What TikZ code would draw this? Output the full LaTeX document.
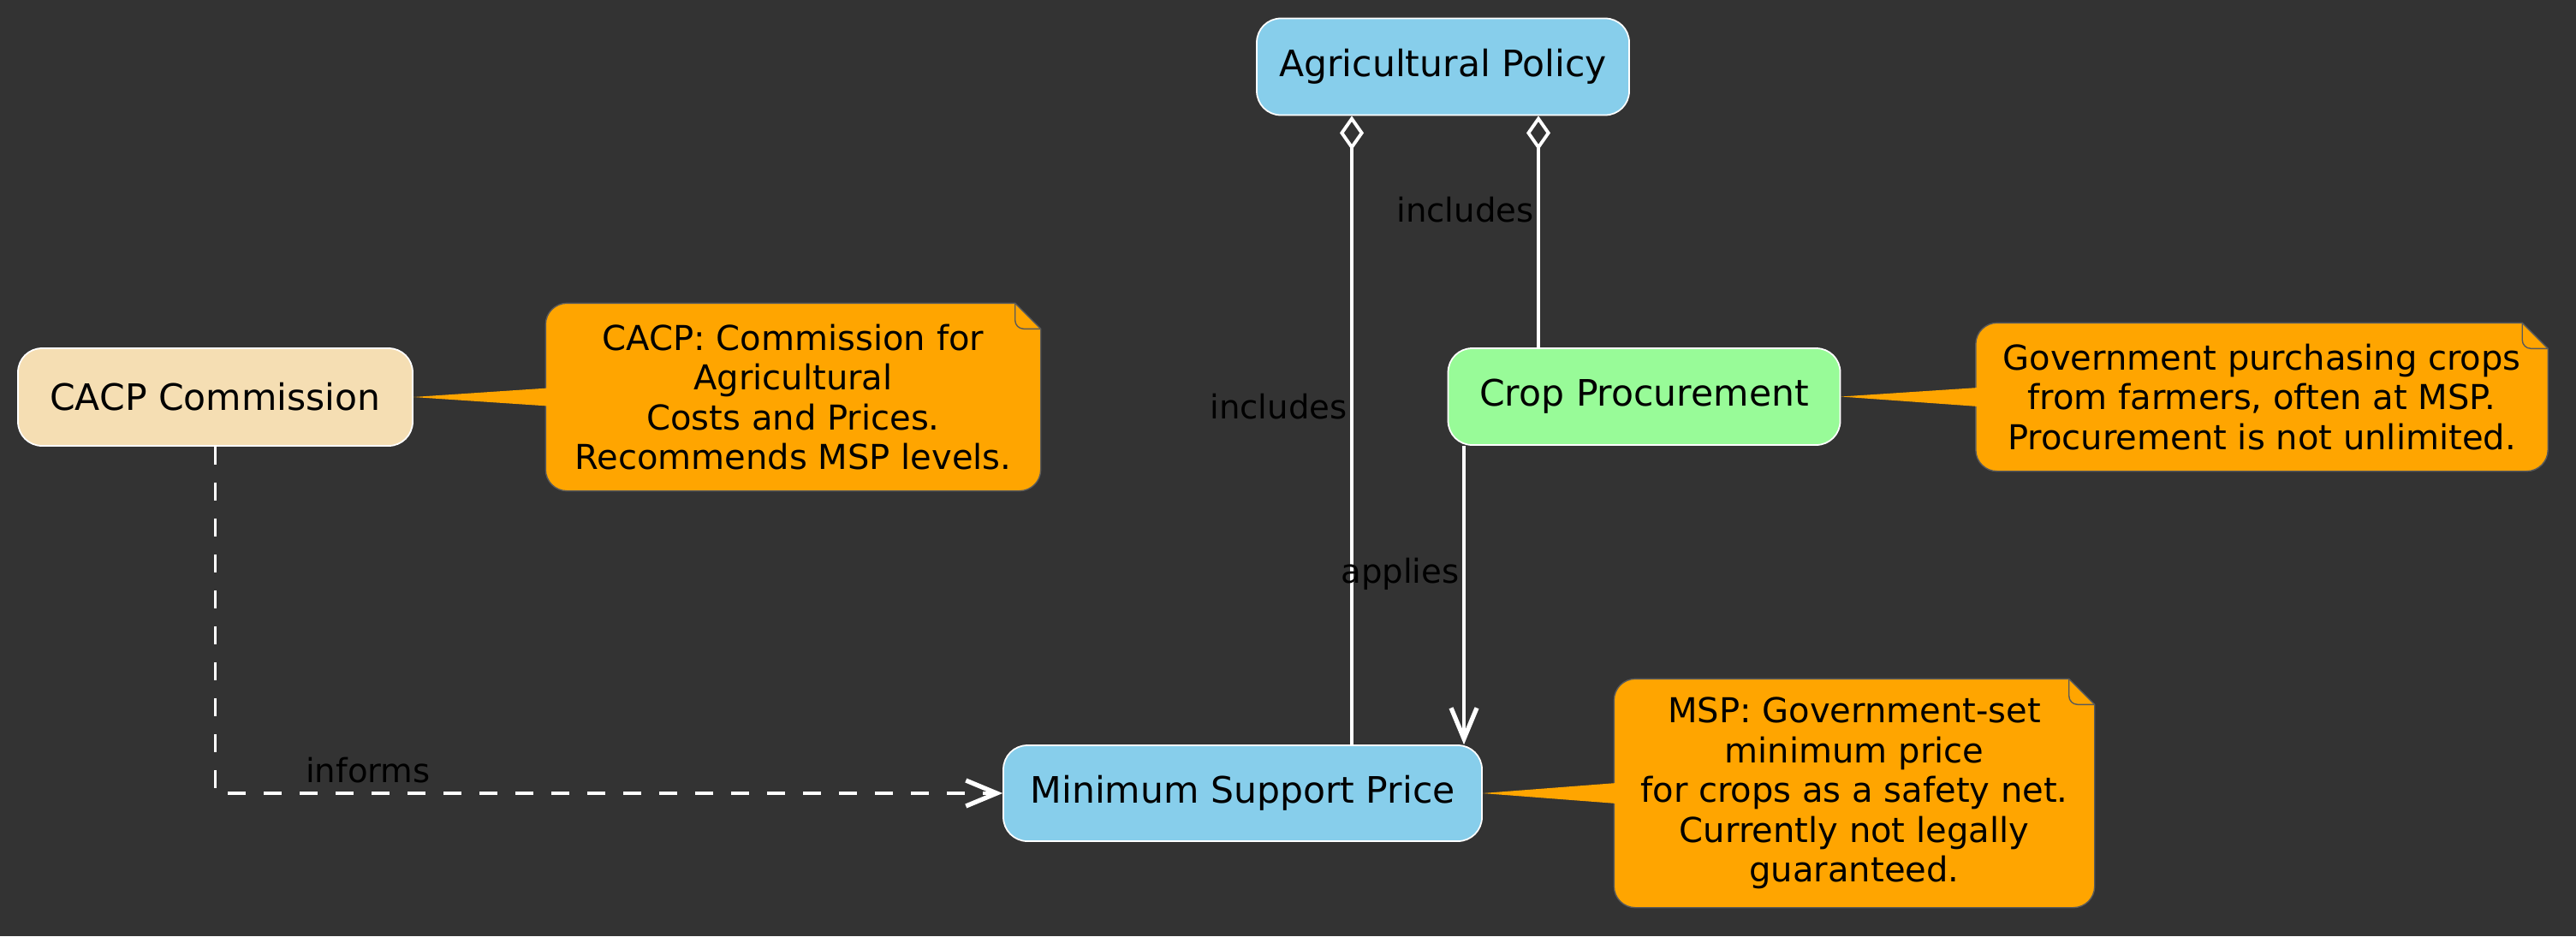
\documentclass[tikz,border=0pt]{standalone}
\usepackage{fontspec}
\setmainfont{DejaVu Sans}
\usetikzlibrary{arrows.meta,calc,backgrounds}

\definecolor{bgdark}{HTML}{333333}
\definecolor{skyblue}{HTML}{87CEEB}
\definecolor{wheat}{HTML}{F5DEB3}
\definecolor{palegreen}{HTML}{98FB98}
\definecolor{noteorange}{HTML}{FFA500}
\definecolor{noteline}{HTML}{5A5A5A}

\tikzset{
    box/.style={rectangle, rounded corners=0.28cm, draw=white, line width=0.5pt,
        minimum height=1.13cm, text=black, font=\fontsize{12.1pt}{14pt}\selectfont},
    notetext/.style={align=center, inner sep=0pt, text=black,
        font=\fontsize{11.4pt}{13.2pt}\selectfont},
    notebox/.style={fill=noteorange, draw=noteline, line width=0.4pt},
    link/.style={draw=white, line width=1.1pt},
    tip/.style={-{Straight Barb[length=0.36cm, width=0.3cm, line width=1.5pt]}},
    edgelabel/.style={text=black, inner xsep=1pt, inner ysep=0pt,
        font=\fontsize{11pt}{13pt}\selectfont},
}

\begin{document}
\begin{tikzpicture}

    \useasboundingbox (0, 0) rectangle (30.09, -10.94);

    % Boxes
    \node [box, fill=skyblue, minimum width=4.35cm] (ap) at (16.855, -0.78) {Agricultural Policy};
    \node [box, fill=wheat, minimum width=4.61cm, minimum height=1.14cm] (cacp) at (2.515, -4.64) {CACP Commission};
    \node [box, fill=palegreen, minimum width=4.58cm] (cp) at (19.205, -4.635) {Crop Procurement};
    \node [box, fill=skyblue, minimum width=5.59cm, minimum height=1.12cm] (msp) at (14.515, -9.27) {Minimum Support Price};

    % Notes
    \node [notetext, minimum width=5.77cm, minimum height=2.18cm] (cacpnote) at (9.265, -4.64)
        {CACP: Commission for\\Agricultural\\Costs and Prices.\\Recommends MSP levels.};
    \node [notetext, minimum width=6.67cm, minimum height=1.72cm] (cpnote) at (26.42, -4.64)
        {Government purchasing crops\\from farmers, often at MSP.\\Procurement is not unlimited.};
    \node [notetext, minimum width=5.60cm, minimum height=2.66cm] (mspnote) at (21.66, -9.27)
        {MSP: Government-set\\minimum price\\for crops as a safety net.\\Currently not legally\\guaranteed.};

    % Background and note shapes
    \begin{scope}[on background layer]
        \fill [bgdark] (0, 0) rectangle (30.09, -10.94);
        \foreach \nm in {cacpnote, cpnote, mspnote} {
                \filldraw [notebox] ($(\nm.north east) + (-0.3, 0)$) -- ($(\nm.north east) + (0, -0.3)$)
                    -- ($(\nm.south east) + (0, 0.25)$) arc [start angle=0, end angle=-90, radius=0.25]
                    -- ($(\nm.south west) + (0.25, 0)$) arc [start angle=270, end angle=180, radius=0.25]
                    -- ($(\nm.north west) + (0, -0.25)$) arc [start angle=180, end angle=90, radius=0.25]
                    -- cycle;
                \draw [draw=noteline, line width=0.4pt] ($(\nm.north east) + (-0.3, 0)$) -- ++(0, -0.2)
                    arc [start angle=180, end angle=270, radius=0.1] -- ($(\nm.north east) + (0, -0.3)$);
            }

        % Note tails
        \fill [noteorange] (cacp.east) -- ([xshift=0.03cm, yshift=0.105cm]cacpnote.west)
            -- ([xshift=0.03cm, yshift=-0.105cm]cacpnote.west) -- cycle;
        \fill [noteorange] (cp.east) -- ([xshift=0.03cm, yshift=0.11cm]cpnote.west)
            -- ([xshift=0.03cm, yshift=-0.11cm]cpnote.west) -- cycle;
        \fill [noteorange] (msp.east) -- ([xshift=0.03cm, yshift=0.12cm]mspnote.west)
            -- ([xshift=0.03cm, yshift=-0.12cm]mspnote.west) -- cycle;
    \end{scope}

    % Links
    \draw [link, {Diamond[open, length=0.4cm, width=0.28cm]}-]
        ([xshift=-1.065cm]ap.south) -- ([xshift=-1.065cm]ap.south |- msp.north)
        node [edgelabel, pos=0.463, anchor=east] {includes};
    \draw [link, {Diamond[open, length=0.4cm, width=0.28cm]}-]
        ([xshift=1.115cm]ap.south) -- ([xshift=1.115cm]ap.south |- cp.north)
        node [edgelabel, pos=0.404, anchor=east] {includes};
    \draw [link, tip]
        ([xshift=-2.105cm]cp.south) -- ([xshift=-2.105cm]cp.south |- msp.north)
        node [edgelabel, pos=0.43, anchor=east] {applies};
    \draw [link, tip, dash pattern=on 0.21cm off 0.21cm]
        (cacp.south) |- (msp.west)
        node [edgelabel, pos=0.597, anchor=south, yshift=0.1cm] {informs};

\end{tikzpicture}
\end{document}
